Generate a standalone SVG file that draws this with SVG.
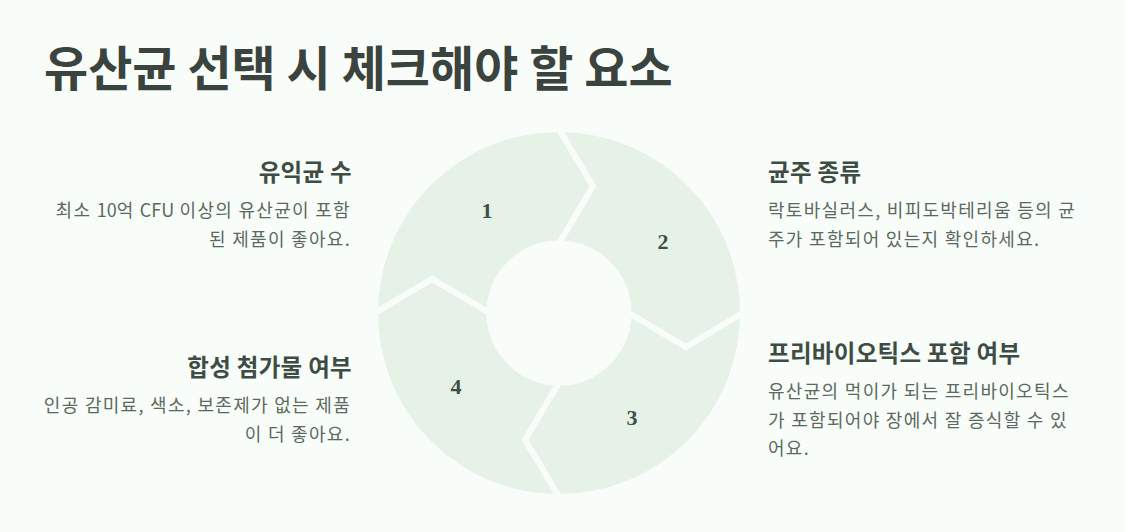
<svg xmlns="http://www.w3.org/2000/svg" width="1125" height="532" viewBox="0 0 1125 532">
<style>
.bg{fill:#F8FDF9}
.seg{fill:#E6F1E7;stroke:#F8FDF9;stroke-width:6;stroke-linejoin:miter}
.num{font-family:"Liberation Serif","DejaVu Serif",serif;font-weight:bold;font-size:22px;fill:#3E5146;text-anchor:middle}
.title{font-family:"Noto Sans CJK KR","Noto Sans",sans-serif;font-weight:bold;font-size:48px;fill:#3A433D}
.h{font-family:"Noto Sans CJK KR","Noto Sans",sans-serif;font-weight:bold;font-size:23.5px;letter-spacing:0.3px;fill:#3E4D43}
.d{font-family:"Noto Sans CJK KR","Noto Sans",sans-serif;font-size:18px;letter-spacing:1.3px;fill:#5B6A60}
.lat{letter-spacing:0px}
.r{text-anchor:end}
</style>
<rect class="bg" x="0" y="0" width="1125" height="532"/>
<text class="title" x="44" y="86">유산균 선택 시 체크해야 할 요소</text>
<g id="ring">
<g id="seg1"><path class="seg" d="M375,313 A184,184 0 0 1 559,129 L593,186.25 L559,243.5 A69.5,69.5 0 0 0 489.5,313 L432.25,279 Z"/><text class="num" x="487" y="218">1</text></g>
<g id="seg2"><path class="seg" d="M559,129 A184,184 0 0 1 743,313 L685.75,347 L628.5,313 A69.5,69.5 0 0 0 559,243.5 L593,186.25 Z"/><text class="num" x="663" y="249">2</text></g>
<g id="seg3"><path class="seg" d="M743,313 A184,184 0 0 1 559,497 L525,439.75 L559,382.5 A69.5,69.5 0 0 0 628.5,313 L685.75,347 Z"/><text class="num" x="632" y="425">3</text></g>
<g id="seg4"><path class="seg" d="M559,497 A184,184 0 0 1 375,313 L432.25,279 L489.5,313 A69.5,69.5 0 0 0 559,382.5 L525,439.75 Z"/><text class="num" x="456" y="394">4</text></g>
</g>
<g id="item1">
<text class="h r" x="352" y="181">유익균 수</text>
<text class="d r" x="351" y="217">최소 <tspan class="lat">10</tspan>억 <tspan class="lat">CFU</tspan> 이상의 유산균이 포함</text>
<text class="d r" x="351" y="245.5">된 제품이 좋아요.</text>
</g>
<g id="item2">
<text class="h" x="768" y="181">균주 종류</text>
<text class="d" x="768" y="217">락토바실러스, 비피도박테리움 등의 균</text>
<text class="d" x="768" y="245.5">주가 포함되어 있는지 확인하세요.</text>
</g>
<g id="item3">
<text class="h" x="768" y="362">프리바이오틱스 포함 여부</text>
<text class="d" x="768" y="398">유산균의 먹이가 되는 프리바이오틱스</text>
<text class="d" x="768" y="426.5">가 포함되어야 장에서 잘 증식할 수 있</text>
<text class="d" x="768" y="455">어요.</text>
</g>
<g id="item4">
<text class="h r" x="352" y="376">합성 첨가물 여부</text>
<text class="d r" x="351" y="412">인공 감미료, 색소, 보존제가 없는 제품</text>
<text class="d r" x="351" y="440.5">이 더 좋아요.</text>
</g>
</svg>
